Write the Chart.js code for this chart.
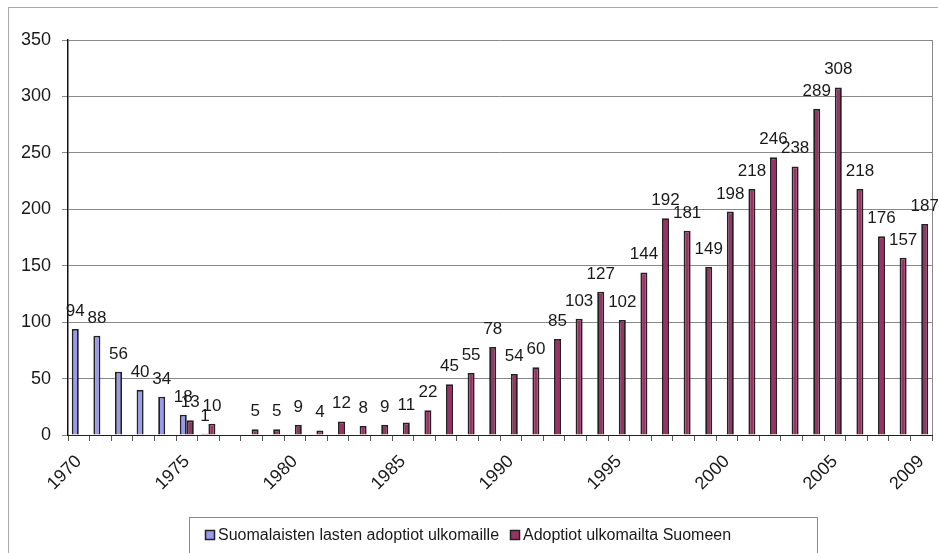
<!DOCTYPE html>
<html><head><meta charset="utf-8">
<script src="https://cdn.jsdelivr.net/npm/chart.js@4/dist/chart.umd.min.js"></script>
<style>html,body{margin:0;padding:0;background:#fff}#wrap{width:938px;height:553px;position:relative}canvas{display:block}</style>
</head><body><div id="wrap"><canvas id="c" width="938" height="553"></canvas></div>
<script>
const years = ['1970','1971','1972','1973','1974','1975','1976','1977','1978','1979',
  '1980','1981','1982','1983','1984','1985','1986','1987','1988','1989',
  '1990','1991','1992','1993','1994','1995','1996','1997','1998','1999',
  '2000','2001','2002','2003','2004','2005','2006','2007','2008','2009'];
const seriesNames = ['Suomalaisten lasten adoptiot ulkomaille', 'Adoptiot ulkomailta Suomeen'];
const outbound = [94,88,56,40,34,18,1,null,null,null,
  null,null,null,null,null,null,null,null,null,null,
  null,null,null,null,null,null,null,null,null,null,
  null,null,null,null,null,null,null,null,null,null];
const inbound = [null,null,null,null,null,13,10,null,5,5,
  9,4,12,8,9,11,22,45,55,78,
  54,60,85,103,127,102,144,192,181,149,
  198,218,246,238,289,308,218,176,157,187];
const tickLabels = ['1970','1975','1980','1985','1990','1995','2000','2005','2009'];
const yTicks = [0,50,100,150,200,250,300,350];

const colors = ['#9999ee', '#993366'];
const FONT = '"Liberation Sans", Arial, sans-serif';

const decor = {
  id: 'decor',
  beforeDraw(chart) {
    const ctx = chart.ctx;
    ctx.save();
    ctx.fillStyle = '#fff';
    ctx.fillRect(0, 0, chart.width, chart.height);
    ctx.strokeStyle = '#aaa';
    ctx.lineWidth = 1;
    ctx.strokeRect(8.5, 7.5, 1000, 1000);
    ctx.restore();
  },
  afterDatasetsDraw(chart) {
    const ctx = chart.ctx;
    const a = chart.chartArea;
    ctx.save();
    ctx.strokeStyle = '#888';
    ctx.lineWidth = 1;
    ctx.beginPath();
    ctx.moveTo(Math.round(a.right) + 0.5, a.top);
    ctx.lineTo(Math.round(a.right) + 0.5, a.bottom);
    ctx.stroke();
    ctx.font = '17px ' + FONT;
    ctx.fillStyle = '#1a1a1a';
    ctx.textAlign = 'center';
    ctx.textBaseline = 'alphabetic';
    chart.data.datasets.forEach((ds, di) => {
      const meta = chart.getDatasetMeta(di);
      meta.data.forEach((bar, i) => {
        const v = ds.data[i];
        if (v === null || v === undefined) return;
        ctx.fillText(String(v), bar.x, bar.y - 13);
      });
    });
    const lx = 189.5, ly = 517.5, lw = 628, lh = 36;
    ctx.fillStyle = '#fff';
    ctx.fillRect(lx, ly, lw, lh);
    ctx.strokeStyle = '#888';
    ctx.lineWidth = 1;
    ctx.strokeRect(lx, ly, lw, lh);
    const cy = 535;
    const items = [{x: 205, text: seriesNames[0], c: colors[0]}, {x: 510, text: seriesNames[1], c: colors[1]}];
    ctx.font = '16px ' + FONT;
    ctx.textAlign = 'left';
    ctx.textBaseline = 'middle';
    items.forEach(it => {
      ctx.fillStyle = it.c;
      ctx.fillRect(it.x, cy - 5, 10, 10);
      ctx.strokeStyle = '#222';
      ctx.lineWidth = 1.5;
      ctx.strokeRect(it.x + 0.5, cy - 4.5, 9, 9);
      ctx.fillStyle = '#1a1a1a';
      ctx.fillText(it.text, it.x + 13, cy + 1);
    });
    ctx.restore();
  }
};

new Chart(document.getElementById('c'), {
  type: 'bar',
  data: {
    labels: years,
    datasets: [
      { label: seriesNames[0], data: outbound, backgroundColor: colors[0], borderColor: '#222', borderWidth: 1.8, categoryPercentage: 0.65, barPercentage: 1.0 },
      { label: seriesNames[1], data: inbound, backgroundColor: colors[1], borderColor: '#222', borderWidth: 1.8, categoryPercentage: 0.65, barPercentage: 1.0 }
    ]
  },
  options: {
    responsive: false,
    animation: false,
    devicePixelRatio: 1,
    layout: { padding: { left: 8, right: 6, top: 40, bottom: 0 } },
    plugins: { legend: { display: false }, tooltip: { enabled: false } },
    scales: {
      x: {
        grid: { offset: true, drawOnChartArea: false, tickLength: 6, color: '#555' },
        border: { color: '#222', width: 1 },
        ticks: {
          autoSkip: false, maxRotation: 45, minRotation: 45, padding: 10,
          font: { family: FONT, size: 18 }, color: '#1a1a1a',
          callback(v, i) { const y = years[i]; return tickLabels.includes(y) ? y : ''; }
        },
        afterFit(s) { s.height = 118; s.paddingLeft = 0; s.paddingRight = 0; }
      },
      y: {
        min: yTicks[0], max: yTicks[yTicks.length - 1],
        afterBuildTicks(s) { s.ticks = yTicks.map(v => ({ value: v })); },
        ticks: { padding: 11, font: { family: FONT, size: 18 }, color: '#1a1a1a' },
        grid: { color: '#888', tickLength: 6 },
        border: { color: '#111', width: 1.5 },
        afterFit(s) { s.width = 60; s.paddingTop = 0; s.paddingBottom = 0; }
      }
    }
  },
  plugins: [decor]
});
</script>
</body></html>
